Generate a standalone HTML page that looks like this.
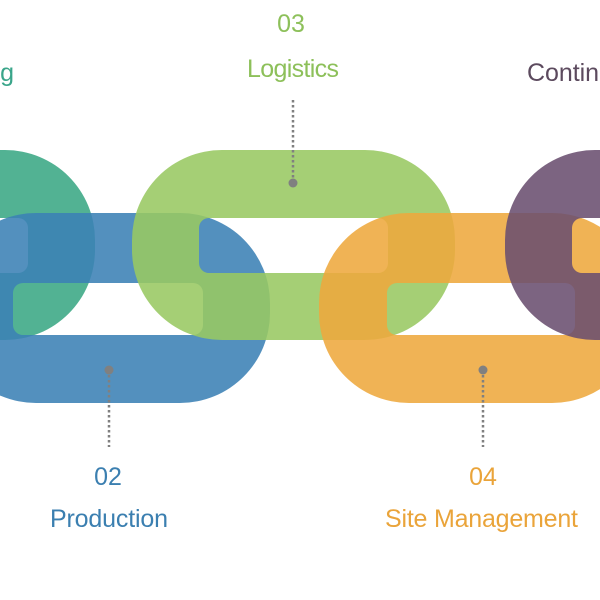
<!DOCTYPE html>
<html><head><style>
body{margin:0;background:#fff;width:600px;height:600px;overflow:hidden}
svg{display:block}
text{font-family:"Liberation Sans",sans-serif;font-size:25px}
</style></head><body>
<svg width="600" height="600" viewBox="0 0 600 600">
<g fill-rule="evenodd">
<path opacity="0.88" fill="#3aa784" d="M-140 150h145a90 90 0 0 1 90 90v10a90 90 0 0 1 -90 90h-145a90 90 0 0 1 -90 -90v-10a90 90 0 0 1 90 -90z M-152 218h170a10 10 0 0 1 10 10v35a10 10 0 0 1 -10 10h-170a10 10 0 0 1 -10 -10v-35a10 10 0 0 1 10 -10z"/>
<path opacity="0.88" fill="#3b81b5" d="M36 213h144a90 90 0 0 1 90 90v10a90 90 0 0 1 -90 90h-144a90 90 0 0 1 -90 -90v-10a90 90 0 0 1 90 -90z M23 283h170a10 10 0 0 1 10 10v32a10 10 0 0 1 -10 10h-170a10 10 0 0 1 -10 -10v-32a10 10 0 0 1 10 -10z"/>
<path opacity="0.88" fill="#98c862" d="M222 150h143a90 90 0 0 1 90 90v10a90 90 0 0 1 -90 90h-143a90 90 0 0 1 -90 -90v-10a90 90 0 0 1 90 -90z M209 218h169a10 10 0 0 1 10 10v35a10 10 0 0 1 -10 10h-169a10 10 0 0 1 -10 -10v-35a10 10 0 0 1 10 -10z"/>
<path opacity="0.88" fill="#eea83e" d="M409 213h143a90 90 0 0 1 90 90v10a90 90 0 0 1 -90 90h-143a90 90 0 0 1 -90 -90v-10a90 90 0 0 1 90 -90z M397 283h168a10 10 0 0 1 10 10v32a10 10 0 0 1 -10 10h-168a10 10 0 0 1 -10 -10v-32a10 10 0 0 1 10 -10z"/>
<path opacity="0.88" fill="#6a4f70" d="M595 150h143a90 90 0 0 1 90 90v10a90 90 0 0 1 -90 90h-143a90 90 0 0 1 -90 -90v-10a90 90 0 0 1 90 -90z M582 218h169a10 10 0 0 1 10 10v35a10 10 0 0 1 -10 10h-169a10 10 0 0 1 -10 -10v-35a10 10 0 0 1 10 -10z"/>
</g>
<g stroke="#808080" stroke-width="2.5" stroke-dasharray="2.5 2.5">
<line x1="293" y1="100" x2="293" y2="183"/>
<line x1="109" y1="370" x2="109" y2="447"/>
<line x1="483" y1="370" x2="483" y2="447"/>
</g>
<g fill="#808080">
<circle cx="293" cy="183" r="4.5"/><circle cx="109" cy="370" r="4.5"/><circle cx="483" cy="370" r="4.5"/>
</g>
<text x="291" y="32" fill="#8dc05a" text-anchor="middle">03</text>
<text x="247" y="77" fill="#8dc05a" textLength="92">Logistics</text>
<text x="-14" y="81" fill="#3aa58a" textLength="28">ng</text>
<text x="527" y="81" fill="#5c4a5e" textLength="72">Contin</text>
<text x="108" y="485" fill="#3b7fb0" text-anchor="middle">02</text>
<text x="50" y="527" fill="#3b7fb0" textLength="118">Production</text>
<text x="483" y="485" fill="#eaa43a" text-anchor="middle">04</text>
<text x="385" y="527" fill="#eaa43a" textLength="193">Site Management</text>
</svg>
</body></html>
